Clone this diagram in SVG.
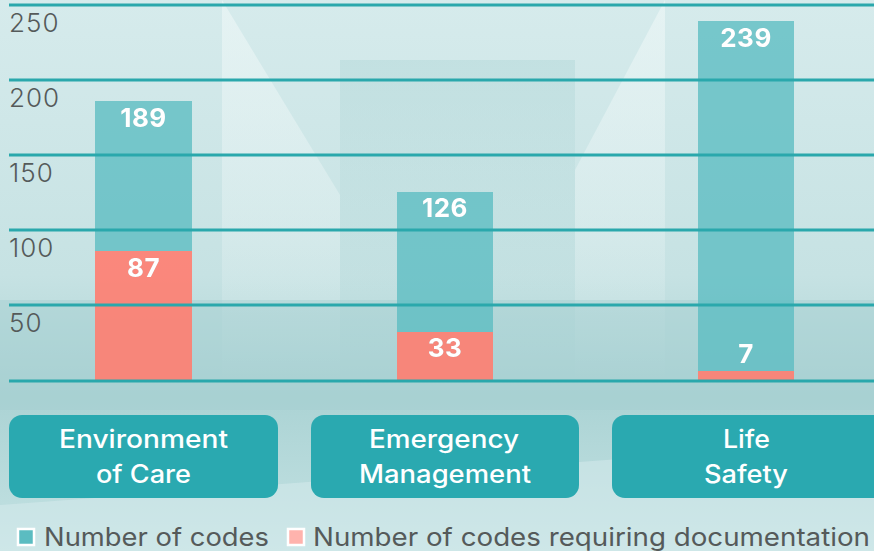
<svg xmlns="http://www.w3.org/2000/svg" width="874" height="551" viewBox="0 0 874 551">
<defs>
<linearGradient id="bg" x1="0" y1="0" x2="0" y2="1">
<stop offset="0" stop-color="#d6ebec"/>
<stop offset="0.5" stop-color="#c6e2e3"/>
<stop offset="0.72" stop-color="#abd3d4"/>
<stop offset="1" stop-color="#c4e2e3"/>
</linearGradient>
<linearGradient id="fade" x1="0" y1="0" x2="0" y2="1">
<stop offset="0" stop-color="#f2f9f9" stop-opacity="0.55"/>
<stop offset="0.6" stop-color="#f2f9f9" stop-opacity="0.3"/>
<stop offset="1" stop-color="#f2f9f9" stop-opacity="0"/>
</linearGradient>
<linearGradient id="fadeDark" x1="0" y1="0" x2="0" y2="1">
<stop offset="0" stop-color="#b3d8d9" stop-opacity="0.5"/>
<stop offset="1" stop-color="#b3d8d9" stop-opacity="0"/>
</linearGradient>
<filter id="glow" x="-20%" y="-20%" width="140%" height="140%">
<feGaussianBlur in="SourceAlpha" stdDeviation="1.5"/>
<feFlood flood-color="#2a8f93" flood-opacity="0.6"/>
<feComposite operator="in" in2="SourceAlpha"/>
<feMerge><feMergeNode/><feMergeNode in="SourceGraphic"/></feMerge>
</filter>
</defs>
<style>
.grid{stroke:#2aa8ac;stroke-width:3;fill:none}
.axis{font-family:Inter,"Liberation Sans",sans-serif;font-size:26px;font-weight:300;fill:#555a5a;letter-spacing:1px}
.bar{fill:#5bbcc1;fill-opacity:0.78}
.red{fill:#ff7d70;fill-opacity:0.9}
.val{font-family:Inter,"Liberation Sans",sans-serif;font-size:26px;font-weight:700;fill:#ffffff;text-anchor:middle;letter-spacing:0.5px}
.cat{fill:#2aa9b0}
.catt{font-family:Inter,"Liberation Sans",sans-serif;font-size:25px;font-weight:500;fill:#ffffff;text-anchor:middle}
.leg{font-family:Inter,"Liberation Sans",sans-serif;font-size:25px;font-weight:400;fill:#555a5a}
</style>
<g id="background">
<rect x="0" y="0" width="874" height="551" fill="url(#bg)"/>
<polygon points="222,0 340,195 340,380 222,380" fill="url(#fade)"/>
<polygon points="665,0 575,170 575,380 665,380" fill="url(#fade)"/>
<rect x="340" y="60" width="235" height="320" fill="url(#fadeDark)"/>
<rect x="0" y="300" width="874" height="110" fill="#a4cfd0" opacity="0.45"/>
<polygon points="0,505 874,440 874,551 0,551" fill="#d8eced" opacity="0.5"/>
</g>
<g id="bars">
<rect class="bar" x="95" y="101" width="97" height="150"/>
<rect class="red" x="95" y="251" width="97" height="129"/>
<rect class="bar" x="397" y="192" width="96" height="140"/>
<rect class="red" x="397" y="332" width="96" height="48"/>
<rect class="bar" x="698" y="21" width="96" height="350"/>
<rect class="red" x="698" y="371" width="96" height="9"/>
</g>
<g id="gridlines">
<line class="grid" x1="9" y1="5" x2="874" y2="5"/>
<line class="grid" x1="9" y1="80" x2="874" y2="80"/>
<line class="grid" x1="9" y1="155" x2="874" y2="155"/>
<line class="grid" x1="9" y1="230" x2="874" y2="230"/>
<line class="grid" x1="9" y1="305" x2="874" y2="305"/>
<line class="grid" x1="9" y1="381" x2="874" y2="381"/>
</g>
<g id="axis-labels">
<text class="axis" x="9" y="32">250</text>
<text class="axis" x="9" y="107">200</text>
<text class="axis" x="9" y="182">150</text>
<text class="axis" x="9" y="257">100</text>
<text class="axis" x="9" y="332">50</text>
</g>
<g id="values" filter="url(#glow)">
<text class="val" x="143.5" y="127">189</text>
<text class="val" x="143.5" y="277">87</text>
<text class="val" x="445" y="217">126</text>
<text class="val" x="445" y="357">33</text>
<text class="val" x="746" y="47">239</text>
<text class="val" x="746" y="363">7</text>
</g>
<g id="cat-environment">
<rect class="cat" x="9" y="415" width="269" height="83" rx="13"/>
<text class="catt" x="143.5" y="448" textLength="169" lengthAdjust="spacingAndGlyphs">Environment</text>
<text class="catt" x="143.5" y="483" textLength="95" lengthAdjust="spacingAndGlyphs">of Care</text>
</g>
<g id="cat-emergency">
<rect class="cat" x="311" y="415" width="268" height="83" rx="13"/>
<text class="catt" x="444" y="448" textLength="150" lengthAdjust="spacingAndGlyphs">Emergency</text>
<text class="catt" x="445" y="483" textLength="172" lengthAdjust="spacingAndGlyphs">Management</text>
</g>
<g id="cat-life">
<rect class="cat" x="612" y="415" width="275" height="83" rx="13"/>
<text class="catt" x="746.5" y="448" textLength="47" lengthAdjust="spacingAndGlyphs">Life</text>
<text class="catt" x="746" y="483" textLength="84" lengthAdjust="spacingAndGlyphs">Safety</text>
</g>
<g id="legend">
<rect x="18" y="529" width="16" height="16" fill="#5bbcc1" stroke="#ffffff" stroke-width="2.5"/>
<text class="leg" x="44" y="546" textLength="225" lengthAdjust="spacingAndGlyphs">Number of codes</text>
<rect x="288" y="529" width="16" height="16" fill="#ffb3ad" stroke="#ffffff" stroke-width="2.5"/>
<text class="leg" x="313" y="546" textLength="557" lengthAdjust="spacingAndGlyphs">Number of codes requiring documentation</text>
</g>
</svg>
